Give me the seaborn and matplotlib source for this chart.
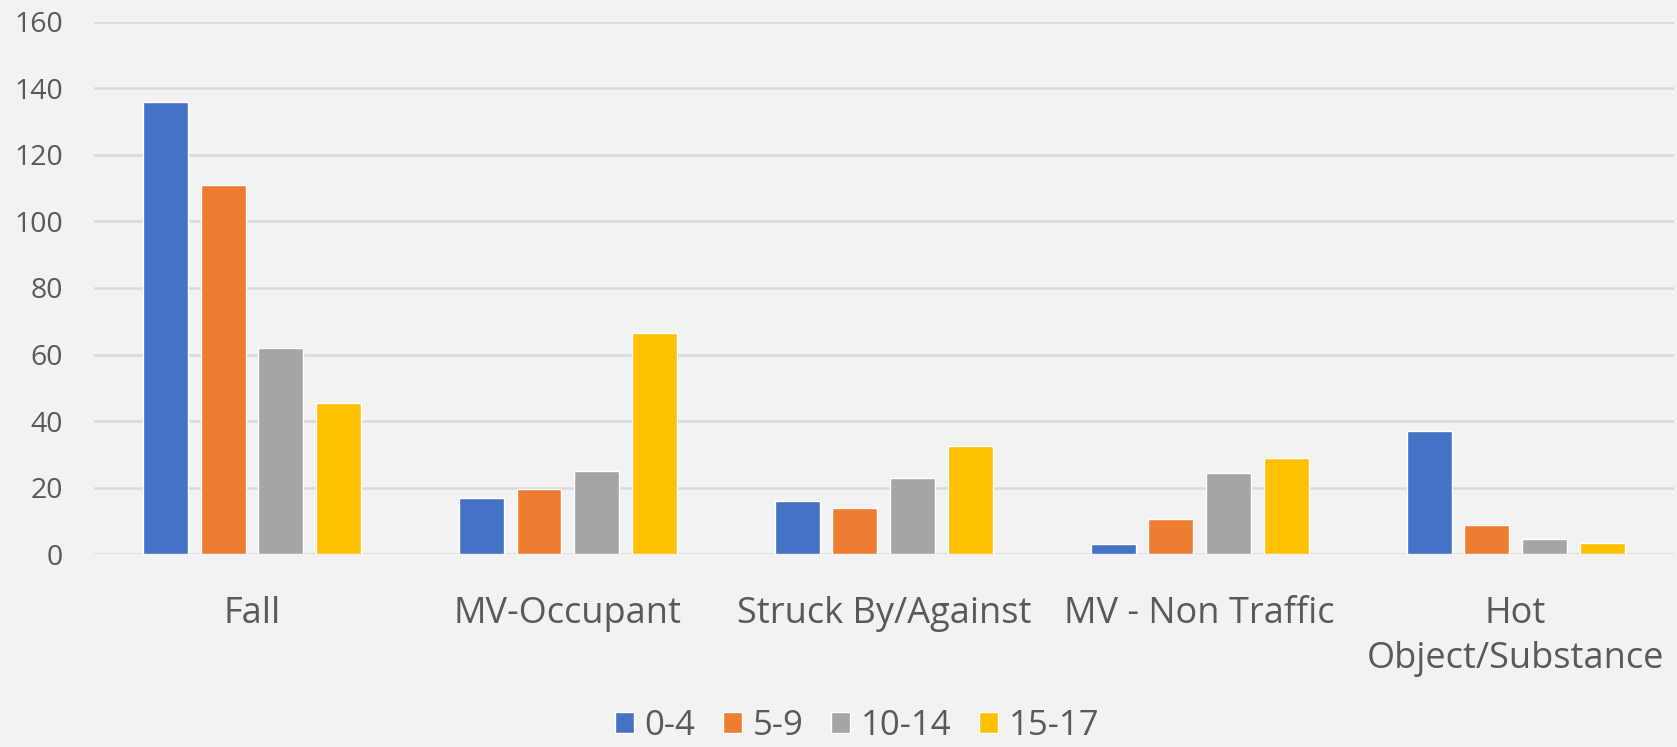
import matplotlib
matplotlib.use("Agg")
import matplotlib.pyplot as plt
import pandas as pd
import seaborn as sns

# categories and series
Categories = ["Fall", "MV-Occupant", "Struck By/Against", "MV - Non Traffic", "Hot\nObject/Substance"]
AgeGroups = ["0-4", "5-9", "10-14", "15-17"]
Age_0_4 = [136, 17, 16, 3, 37]
Age_5_9 = [111, 19.5, 14, 10.5, 8.7]
Age_10_14 = [62, 25, 23, 24.5, 4.7]
Age_15_17 = [45.5, 66.5, 32.5, 29, 3.3]

Colors = ["#4472C4", "#ED7D31", "#A5A5A5", "#FFC000"]
Background = "#F2F2F2"
TextColor = "#595959"
GridColor = "#D9D9D9"


def BuildFrame():
	"""
	Turn the small lists into the long table that seaborn wants.
	"""
	rows = []
	for group, values in zip(AgeGroups, [Age_0_4, Age_5_9, Age_10_14, Age_15_17]):
		for cat, v in zip(Categories, values):
			rows.append({"Cause": cat, "Age": group, "Count": v})
	return pd.DataFrame(rows)


def Plot(Save: str = "out.png"):
	data = BuildFrame()

	sns.set_style("white")
	plt.rcParams["font.family"] = ["Open Sans", "DejaVu Sans"]

	fig = plt.figure(figsize=(16.77, 7.47), dpi=100, facecolor=Background)
	ax = fig.add_axes([0.056, 0.258, 0.942, 0.713])
	ax.set_facecolor(Background)

	sns.barplot(data=data, x="Cause", y="Count", hue="Age", order=Categories, hue_order=AgeGroups,
				palette=Colors, width=0.73, gap=0.22, saturation=1, ax=ax, zorder=3)

	ax.set_ylim(0, 160)
	ax.set_yticks(range(0, 161, 20))
	ax.set_xlim(-0.5, len(Categories) - 0.5)
	ax.grid(axis="y", color=GridColor, linewidth=1.8, zorder=0)
	ax.set_axisbelow(True)
	for side in ["top", "right", "left", "bottom"]:
		ax.spines[side].set_visible(False)

	ax.set_xlabel("")
	ax.set_ylabel("")
	ax.tick_params(axis="y", length=0, pad=22, labelsize=20.5, labelcolor=TextColor)
	ax.tick_params(axis="x", length=0, pad=30, labelsize=26, labelcolor=TextColor)
	for lbl in ax.get_xticklabels():
		lbl.set_linespacing(1.32)

	handles, labels = ax.get_legend_handles_labels()
	ax.get_legend().remove()
	fig.legend(handles, labels, loc="lower center", bbox_to_anchor=(0.511, -0.036), ncol=4, frameon=False,
			   fontsize=25, labelcolor=TextColor, handlelength=0.55, handleheight=0.55,
			   handletextpad=0.3, columnspacing=0.8)

	plt.savefig(Save, dpi=100, facecolor=Background)


Plot()
